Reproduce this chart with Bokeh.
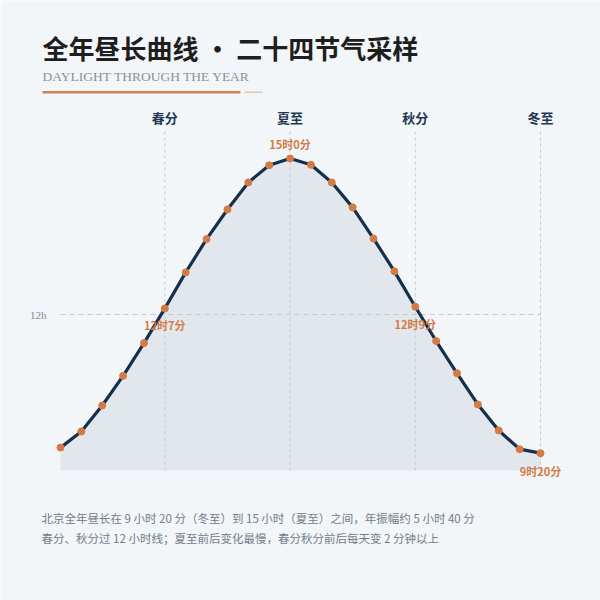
from bokeh.plotting import figure
from bokeh.models import Range1d
from bokeh.core.properties import value
from bokeh.embed import file_html
from bokeh.resources import INLINE

# ---------------- data ----------------
terms = ["小寒", "大寒", "立春", "雨水", "惊蛰", "春分", "清明", "谷雨",
         "立夏", "小满", "芒种", "夏至", "小暑", "大暑", "立秋", "处暑",
         "白露", "秋分", "寒露", "霜降", "立冬", "小雪", "大雪", "冬至"]
daylight_h = [9.44, 9.75, 10.25, 10.82, 11.45, 12.117, 12.81, 13.45,
              14.02, 14.54, 14.87, 15.0, 14.88, 14.54, 14.06, 13.46,
              12.83, 12.15, 11.49, 10.87, 10.27, 9.77, 9.41, 9.333]
key_terms = ["春分", "夏至", "秋分", "冬至"]
key_texts = ["12时7分", "15时0分", "12时9分", "9时20分"]
ref_hours = [12]
ref_labels = ["12h"]

title = "全年昼长曲线 · 二十四节气采样"
subtitle = "DAYLIGHT THROUGH THE YEAR"
notes = ["北京全年昼长在 9 小时 20 分（冬至）到 15 小时（夏至）之间，年振幅约 5 小时 40 分",
         "春分、秋分过 12 小时线；夏至前后变化最慢，春分秋分前后每天变 2 分钟以上"]

# ---------------- style / geometry ----------------
BG = "#f3f6f9"
NAVY = "#14304b"
ORANGE = "#d47a45"
GRID = "#c4cbd2"
CJK = "Noto Sans CJK SC"

W = H = 600
PL, PR, PT, PB = 60, 540, 130, 470       # plot area in page pixels
n = len(terms)
x = list(range(n))
y_lo = 9.0
px_per_h = 52.0
y_hi = y_lo + (PB - PT) / px_per_h
px_per_x = (PR - PL) / (n - 1)

def dx(page_x):
    return (page_x - PL) / px_per_x

def dy(page_y):
    return y_lo + (PB - page_y) / px_per_h

p = figure(width=W, height=H, output_backend="svg", toolbar_location=None,
           x_range=Range1d(dx(0), dx(W)), y_range=Range1d(dy(H), dy(0)),
           min_border=0, x_axis_location=None, y_axis_location=None)
p.background_fill_color = BG
p.border_fill_color = BG
p.outline_line_color = None
p.xgrid.visible = False
p.ygrid.visible = False

key_idx = [terms.index(t) for t in key_terms]

# area + reference lines
p.varea(x=x, y1=[y_lo] * n, y2=daylight_h, fill_color="#e2e7ed")
p.segment(x0=key_idx, y0=[y_lo] * len(key_idx), x1=key_idx, y1=[y_hi] * len(key_idx),
          line_color=GRID, line_dash="3 3", line_width=1)
p.segment(x0=[0] * len(ref_hours), y0=ref_hours, x1=[n - 1] * len(ref_hours), y1=ref_hours,
          line_color=GRID, line_dash="5 4", line_width=1)

# curve
p.line(x, daylight_h, line_width=3.2, line_color=NAVY, line_join="round")
p.scatter(x, daylight_h, size=7, fill_color=ORANGE, line_color=ORANGE)

# key term names above plot
p.text(x=key_idx, y=[dy(117)] * len(key_idx), text=key_terms,
       text_align="center", text_baseline="middle", text_font=value(CJK),
       text_font_style="bold", text_font_size="13px", text_color="#1f3954")

# y reference label
p.text(x=[dx(46)] * len(ref_hours), y=ref_hours, text=ref_labels,
       text_align="right", text_baseline="middle", text_font=value("Liberation Serif"),
       text_font_size="11px", text_color="#7d8793")

# key annotations (offsets in pixels, converted to hours)
offsets = {"夏至": 15, "春分": -17, "秋分": -17, "冬至": -18}
ann_x = [terms.index(t) for t in key_terms]
ann_y = [daylight_h[terms.index(t)] + offsets[t] / px_per_h for t in key_terms]
p.text(x=ann_x, y=ann_y, text=key_texts, text_align="center", text_baseline="middle",
       text_font=value(CJK), text_font_style="bold", text_font_size="11px",
       text_color=ORANGE)

# header
p.text(x=[dx(42)], y=[dy(47)], text=[title], text_align="left", text_baseline="middle",
       text_font=value(CJK), text_font_style="bold", text_font_size="26px",
       text_color="#1e1e1e")
p.text(x=[dx(42)], y=[dy(76)], text=[subtitle], text_align="left", text_baseline="middle",
       text_font=value("Liberation Serif"), text_font_size="13.5px", text_color="#8a9099")
p.quad(left=[dx(42)], right=[dx(240)], bottom=[dy(93)], top=[dy(90.5)],
       fill_color="#d0824f", line_color=None)
p.quad(left=[dx(244)], right=[dx(262)], bottom=[dy(92.5)], top=[dy(91)],
       fill_color="#e6c3ad", line_color=None)

# footer notes
p.text(x=[dx(41)] * len(notes), y=[dy(517 + 20 * k) for k in range(len(notes))],
       text=notes, text_align="left", text_baseline="middle", text_font=value(CJK),
       text_font_size="11.5px", text_color="#717c89")

open("out.html", "w").write(file_html(p, INLINE))
